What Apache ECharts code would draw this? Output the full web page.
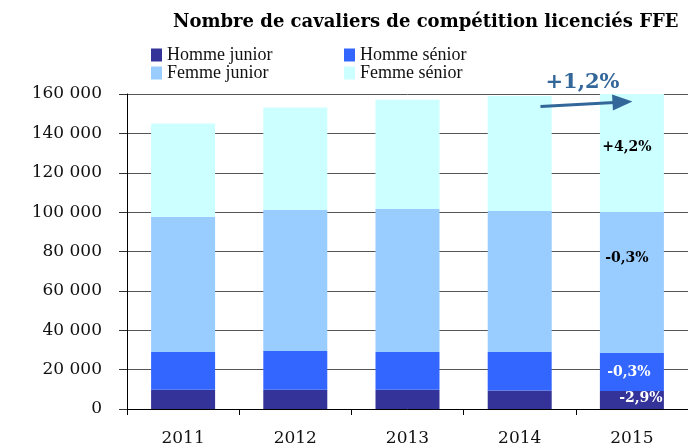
<!DOCTYPE html>
<html>
<head>
<meta charset="utf-8">
<script src="https://cdn.jsdelivr.net/npm/echarts@6/dist/echarts.min.js"></script>
<style>html,body{margin:0;padding:0;background:#fff}#c{width:688px;height:447px}</style>
</head>
<body>
<div id="c"></div>
<script>
const titleText = 'Nombre de cavaliers de compétition licenciés FFE';
const categories = ['2011', '2012', '2013', '2014', '2015'];
const seriesNames = ['Homme junior', 'Homme sénior', 'Femme junior', 'Femme sénior'];
const hommeJunior = [9800, 9800, 9800, 9400, 9200];
const hommeSenior = [19100, 19600, 19100, 19500, 19200];
const femmeJunior = [68700, 71700, 72700, 71700, 71700];
const femmeSenior = [47400, 52000, 55500, 58400, 60900];
const evolution2015 = ['-2,9%', '-0,3%', '-0,3%', '+4,2%'];
const totalEvolution = '+1,2%';
const yMax = 160000;
const yInterval = 20000;

const colors = ['#333399', '#3366FF', '#99CCFF', '#CCFFFF'];
const labelColors = ['#ffffff', '#ffffff', '#000000', '#000000'];
const labelOffsets = [[9, -2], [-3, 0], [-5, -24], [-5, -6]];
const legendPos = [[146, 41], [339, 41], [146, 59], [339, 59]];
const serif = '"DejaVu Serif", "Liberation Serif", serif';

const values = [hommeJunior, hommeSenior, femmeJunior, femmeSenior];

const chart = echarts.init(document.getElementById('c'), null, {renderer: 'canvas'});

const series = values.map((arr, si) => ({
  name: seriesNames[si],
  type: 'bar',
  stack: 'total',
  barWidth: 64,
  clip: true,
  itemStyle: {color: colors[si]},
  data: arr,
  label: {
    show: true,
    position: 'inside',
    offset: labelOffsets[si],
    color: labelColors[si],
    fontFamily: serif,
    fontWeight: 'bold',
    fontSize: 14,
    formatter: p => p.dataIndex === categories.length - 1 ? evolution2015[si] : ''
  }
}));

const legends = seriesNames.map((name, i) => ({
  orient: 'horizontal',
  left: legendPos[i][0],
  top: legendPos[i][1],
  itemWidth: 11,
  itemHeight: 13,
  itemGap: 6,
  icon: 'rect',
  textStyle: {fontFamily: '"Liberation Serif", serif', fontSize: 18, color: '#111', padding: [0, 0, 0, 0]},
  selectedMode: false,
  data: [name]
}));

chart.setOption({
  animation: false,
  backgroundColor: '#ffffff',
  title: {
    text: titleText,
    left: 168,
    top: 8,
    textStyle: {fontFamily: serif, fontWeight: 'bold', fontSize: 18, color: '#000'}
  },
  legend: legends,
  grid: {left: 127, right: -4, top: 94, bottom: 36.5, containLabel: false},
  xAxis: {
    type: 'category',
    data: categories,
    axisLine: {show: true, lineStyle: {color: '#000', width: 1}},
    axisTick: {show: true, length: 6, lineStyle: {color: '#000'}},
    axisLabel: {fontFamily: serif, fontSize: 17, color: '#111', margin: 21}
  },
  yAxis: {
    type: 'value',
    min: 0,
    max: yMax,
    interval: yInterval,
    axisLine: {show: true, lineStyle: {color: '#000', width: 1}},
    axisTick: {show: true, length: 8, lineStyle: {color: '#333'}},
    splitLine: {show: true, lineStyle: {color: '#555', width: 1}},
    axisLabel: {
      fontFamily: serif, fontSize: 17, color: '#111', margin: 25,
      formatter: v => String(v).replace(/\B(?=(\d{3})+(?!\d))/g, ' ')
    }
  },
  series: series
});

// Total evolution annotation (arrow + text), anchored in data space
function lerp(a, b, t) { return a + (b - a) * t; }
const p3a = chart.convertToPixel({gridIndex: 0}, [3, 153600]);
const p4a = chart.convertToPixel({gridIndex: 0}, [4, 153600]);
const p3b = chart.convertToPixel({gridIndex: 0}, [3, 156200]);
const p4b = chart.convertToPixel({gridIndex: 0}, [4, 156200]);
const start = [lerp(p3a[0], p4a[0], 0.185), p3a[1]];
const tip = [lerp(p3b[0], p4b[0], 1.005), p3b[1]];
const dx = tip[0] - start[0], dy = tip[1] - start[1];
const len = Math.sqrt(dx * dx + dy * dy);
const ux = dx / len, uy = dy / len;
const headLen = 20, headHalf = 8;
const base = [tip[0] - ux * headLen, tip[1] - uy * headLen];
const arrowColor = '#336699';
const pText = chart.convertToPixel({gridIndex: 0}, [3, 166000]);
const pText4 = chart.convertToPixel({gridIndex: 0}, [4, 166000]);

chart.setOption({
  graphic: [
    {
      type: 'line',
      shape: {x1: start[0], y1: start[1], x2: base[0] + ux * 2, y2: base[1] + uy * 2},
      style: {stroke: arrowColor, lineWidth: 3},
      z: 100
    },
    {
      type: 'polygon',
      shape: {points: [
        tip,
        [base[0] - uy * headHalf, base[1] + ux * headHalf],
        [base[0] + uy * headHalf, base[1] - ux * headHalf]
      ]},
      style: {fill: arrowColor},
      z: 100
    },
    {
      type: 'text',
      x: lerp(pText[0], pText4[0], 0.56),
      y: pText[1],
      style: {
        text: totalEvolution,
        fill: arrowColor,
        font: 'bold 21px "DejaVu Serif", serif',
        textAlign: 'center',
        textVerticalAlign: 'middle'
      },
      z: 100
    }
  ]
});
</script>
</body>
</html>
